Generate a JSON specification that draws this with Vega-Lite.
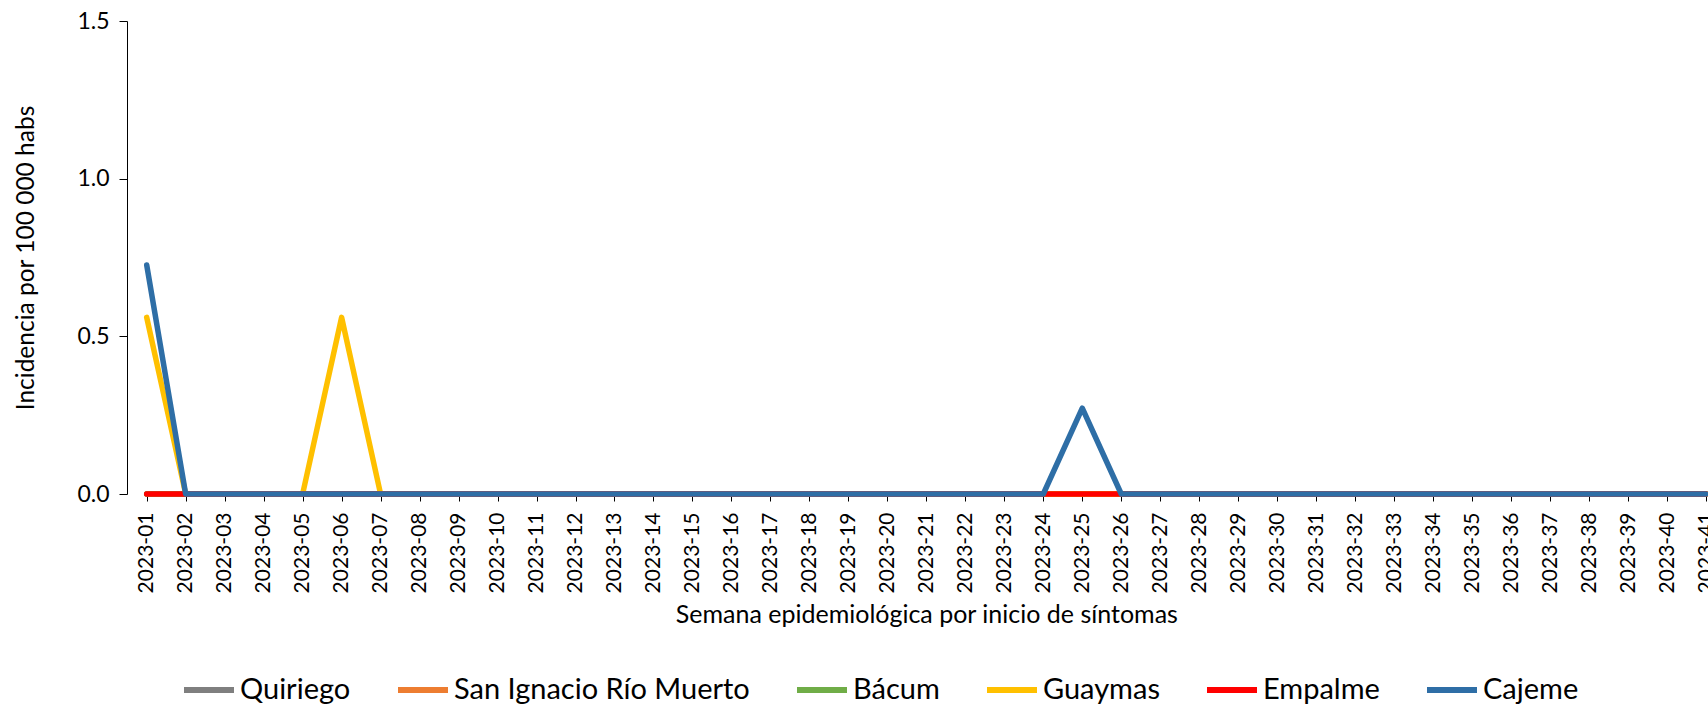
{
  "$schema": "https://vega.github.io/schema/vega-lite/v6.json",
  "width": 1581,
  "height": 473,
  "autosize": {"type": "none"},
  "padding": {"left": 127, "top": 21, "right": 0, "bottom": 212},
  "background": "white",
  "config": {
    "font": "Lato",
    "view": {"stroke": null},
    "axis": {"grid": false, "domainColor": "#000", "tickColor": "#000", "labelColor": "#000", "titleColor": "#000", "labelFont": "Lato", "titleFont": "Lato", "titleFontWeight": "normal"}
  },
  "data": {"values": [
    {"Municipio":"Quiriego","Semana":"2023-01","Incidencia":0},{"Municipio":"Quiriego","Semana":"2023-02","Incidencia":0},{"Municipio":"Quiriego","Semana":"2023-03","Incidencia":0},{"Municipio":"Quiriego","Semana":"2023-04","Incidencia":0},{"Municipio":"Quiriego","Semana":"2023-05","Incidencia":0},{"Municipio":"Quiriego","Semana":"2023-06","Incidencia":0},{"Municipio":"Quiriego","Semana":"2023-07","Incidencia":0},{"Municipio":"Quiriego","Semana":"2023-08","Incidencia":0},{"Municipio":"Quiriego","Semana":"2023-09","Incidencia":0},{"Municipio":"Quiriego","Semana":"2023-10","Incidencia":0},{"Municipio":"Quiriego","Semana":"2023-11","Incidencia":0},{"Municipio":"Quiriego","Semana":"2023-12","Incidencia":0},{"Municipio":"Quiriego","Semana":"2023-13","Incidencia":0},{"Municipio":"Quiriego","Semana":"2023-14","Incidencia":0},{"Municipio":"Quiriego","Semana":"2023-15","Incidencia":0},{"Municipio":"Quiriego","Semana":"2023-16","Incidencia":0},{"Municipio":"Quiriego","Semana":"2023-17","Incidencia":0},{"Municipio":"Quiriego","Semana":"2023-18","Incidencia":0},{"Municipio":"Quiriego","Semana":"2023-19","Incidencia":0},{"Municipio":"Quiriego","Semana":"2023-20","Incidencia":0},{"Municipio":"Quiriego","Semana":"2023-21","Incidencia":0},{"Municipio":"Quiriego","Semana":"2023-22","Incidencia":0},{"Municipio":"Quiriego","Semana":"2023-23","Incidencia":0},{"Municipio":"Quiriego","Semana":"2023-24","Incidencia":0},{"Municipio":"Quiriego","Semana":"2023-25","Incidencia":0},{"Municipio":"Quiriego","Semana":"2023-26","Incidencia":0},{"Municipio":"Quiriego","Semana":"2023-27","Incidencia":0},{"Municipio":"Quiriego","Semana":"2023-28","Incidencia":0},{"Municipio":"Quiriego","Semana":"2023-29","Incidencia":0},{"Municipio":"Quiriego","Semana":"2023-30","Incidencia":0},{"Municipio":"Quiriego","Semana":"2023-31","Incidencia":0},{"Municipio":"Quiriego","Semana":"2023-32","Incidencia":0},{"Municipio":"Quiriego","Semana":"2023-33","Incidencia":0},{"Municipio":"Quiriego","Semana":"2023-34","Incidencia":0},{"Municipio":"Quiriego","Semana":"2023-35","Incidencia":0},{"Municipio":"Quiriego","Semana":"2023-36","Incidencia":0},{"Municipio":"Quiriego","Semana":"2023-37","Incidencia":0},{"Municipio":"Quiriego","Semana":"2023-38","Incidencia":0},{"Municipio":"Quiriego","Semana":"2023-39","Incidencia":0},{"Municipio":"Quiriego","Semana":"2023-40","Incidencia":0},{"Municipio":"Quiriego","Semana":"2023-41","Incidencia":0},
    {"Municipio":"San Ignacio Río Muerto","Semana":"2023-01","Incidencia":0},{"Municipio":"San Ignacio Río Muerto","Semana":"2023-02","Incidencia":0},{"Municipio":"San Ignacio Río Muerto","Semana":"2023-03","Incidencia":0},{"Municipio":"San Ignacio Río Muerto","Semana":"2023-04","Incidencia":0},{"Municipio":"San Ignacio Río Muerto","Semana":"2023-05","Incidencia":0},{"Municipio":"San Ignacio Río Muerto","Semana":"2023-06","Incidencia":0},{"Municipio":"San Ignacio Río Muerto","Semana":"2023-07","Incidencia":0},{"Municipio":"San Ignacio Río Muerto","Semana":"2023-08","Incidencia":0},{"Municipio":"San Ignacio Río Muerto","Semana":"2023-09","Incidencia":0},{"Municipio":"San Ignacio Río Muerto","Semana":"2023-10","Incidencia":0},{"Municipio":"San Ignacio Río Muerto","Semana":"2023-11","Incidencia":0},{"Municipio":"San Ignacio Río Muerto","Semana":"2023-12","Incidencia":0},{"Municipio":"San Ignacio Río Muerto","Semana":"2023-13","Incidencia":0},{"Municipio":"San Ignacio Río Muerto","Semana":"2023-14","Incidencia":0},{"Municipio":"San Ignacio Río Muerto","Semana":"2023-15","Incidencia":0},{"Municipio":"San Ignacio Río Muerto","Semana":"2023-16","Incidencia":0},{"Municipio":"San Ignacio Río Muerto","Semana":"2023-17","Incidencia":0},{"Municipio":"San Ignacio Río Muerto","Semana":"2023-18","Incidencia":0},{"Municipio":"San Ignacio Río Muerto","Semana":"2023-19","Incidencia":0},{"Municipio":"San Ignacio Río Muerto","Semana":"2023-20","Incidencia":0},{"Municipio":"San Ignacio Río Muerto","Semana":"2023-21","Incidencia":0},{"Municipio":"San Ignacio Río Muerto","Semana":"2023-22","Incidencia":0},{"Municipio":"San Ignacio Río Muerto","Semana":"2023-23","Incidencia":0},{"Municipio":"San Ignacio Río Muerto","Semana":"2023-24","Incidencia":0},{"Municipio":"San Ignacio Río Muerto","Semana":"2023-25","Incidencia":0},{"Municipio":"San Ignacio Río Muerto","Semana":"2023-26","Incidencia":0},{"Municipio":"San Ignacio Río Muerto","Semana":"2023-27","Incidencia":0},{"Municipio":"San Ignacio Río Muerto","Semana":"2023-28","Incidencia":0},{"Municipio":"San Ignacio Río Muerto","Semana":"2023-29","Incidencia":0},{"Municipio":"San Ignacio Río Muerto","Semana":"2023-30","Incidencia":0},{"Municipio":"San Ignacio Río Muerto","Semana":"2023-31","Incidencia":0},{"Municipio":"San Ignacio Río Muerto","Semana":"2023-32","Incidencia":0},{"Municipio":"San Ignacio Río Muerto","Semana":"2023-33","Incidencia":0},{"Municipio":"San Ignacio Río Muerto","Semana":"2023-34","Incidencia":0},{"Municipio":"San Ignacio Río Muerto","Semana":"2023-35","Incidencia":0},{"Municipio":"San Ignacio Río Muerto","Semana":"2023-36","Incidencia":0},{"Municipio":"San Ignacio Río Muerto","Semana":"2023-37","Incidencia":0},{"Municipio":"San Ignacio Río Muerto","Semana":"2023-38","Incidencia":0},{"Municipio":"San Ignacio Río Muerto","Semana":"2023-39","Incidencia":0},{"Municipio":"San Ignacio Río Muerto","Semana":"2023-40","Incidencia":0},{"Municipio":"San Ignacio Río Muerto","Semana":"2023-41","Incidencia":0},
    {"Municipio":"Bácum","Semana":"2023-01","Incidencia":0},{"Municipio":"Bácum","Semana":"2023-02","Incidencia":0},{"Municipio":"Bácum","Semana":"2023-03","Incidencia":0},{"Municipio":"Bácum","Semana":"2023-04","Incidencia":0},{"Municipio":"Bácum","Semana":"2023-05","Incidencia":0},{"Municipio":"Bácum","Semana":"2023-06","Incidencia":0},{"Municipio":"Bácum","Semana":"2023-07","Incidencia":0},{"Municipio":"Bácum","Semana":"2023-08","Incidencia":0},{"Municipio":"Bácum","Semana":"2023-09","Incidencia":0},{"Municipio":"Bácum","Semana":"2023-10","Incidencia":0},{"Municipio":"Bácum","Semana":"2023-11","Incidencia":0},{"Municipio":"Bácum","Semana":"2023-12","Incidencia":0},{"Municipio":"Bácum","Semana":"2023-13","Incidencia":0},{"Municipio":"Bácum","Semana":"2023-14","Incidencia":0},{"Municipio":"Bácum","Semana":"2023-15","Incidencia":0},{"Municipio":"Bácum","Semana":"2023-16","Incidencia":0},{"Municipio":"Bácum","Semana":"2023-17","Incidencia":0},{"Municipio":"Bácum","Semana":"2023-18","Incidencia":0},{"Municipio":"Bácum","Semana":"2023-19","Incidencia":0},{"Municipio":"Bácum","Semana":"2023-20","Incidencia":0},{"Municipio":"Bácum","Semana":"2023-21","Incidencia":0},{"Municipio":"Bácum","Semana":"2023-22","Incidencia":0},{"Municipio":"Bácum","Semana":"2023-23","Incidencia":0},{"Municipio":"Bácum","Semana":"2023-24","Incidencia":0},{"Municipio":"Bácum","Semana":"2023-25","Incidencia":0},{"Municipio":"Bácum","Semana":"2023-26","Incidencia":0},{"Municipio":"Bácum","Semana":"2023-27","Incidencia":0},{"Municipio":"Bácum","Semana":"2023-28","Incidencia":0},{"Municipio":"Bácum","Semana":"2023-29","Incidencia":0},{"Municipio":"Bácum","Semana":"2023-30","Incidencia":0},{"Municipio":"Bácum","Semana":"2023-31","Incidencia":0},{"Municipio":"Bácum","Semana":"2023-32","Incidencia":0},{"Municipio":"Bácum","Semana":"2023-33","Incidencia":0},{"Municipio":"Bácum","Semana":"2023-34","Incidencia":0},{"Municipio":"Bácum","Semana":"2023-35","Incidencia":0},{"Municipio":"Bácum","Semana":"2023-36","Incidencia":0},{"Municipio":"Bácum","Semana":"2023-37","Incidencia":0},{"Municipio":"Bácum","Semana":"2023-38","Incidencia":0},{"Municipio":"Bácum","Semana":"2023-39","Incidencia":0},{"Municipio":"Bácum","Semana":"2023-40","Incidencia":0},{"Municipio":"Bácum","Semana":"2023-41","Incidencia":0},
    {"Municipio":"Guaymas","Semana":"2023-01","Incidencia":0.56},{"Municipio":"Guaymas","Semana":"2023-02","Incidencia":0},{"Municipio":"Guaymas","Semana":"2023-03","Incidencia":0},{"Municipio":"Guaymas","Semana":"2023-04","Incidencia":0},{"Municipio":"Guaymas","Semana":"2023-05","Incidencia":0},{"Municipio":"Guaymas","Semana":"2023-06","Incidencia":0.56},{"Municipio":"Guaymas","Semana":"2023-07","Incidencia":0},{"Municipio":"Guaymas","Semana":"2023-08","Incidencia":0},{"Municipio":"Guaymas","Semana":"2023-09","Incidencia":0},{"Municipio":"Guaymas","Semana":"2023-10","Incidencia":0},{"Municipio":"Guaymas","Semana":"2023-11","Incidencia":0},{"Municipio":"Guaymas","Semana":"2023-12","Incidencia":0},{"Municipio":"Guaymas","Semana":"2023-13","Incidencia":0},{"Municipio":"Guaymas","Semana":"2023-14","Incidencia":0},{"Municipio":"Guaymas","Semana":"2023-15","Incidencia":0},{"Municipio":"Guaymas","Semana":"2023-16","Incidencia":0},{"Municipio":"Guaymas","Semana":"2023-17","Incidencia":0},{"Municipio":"Guaymas","Semana":"2023-18","Incidencia":0},{"Municipio":"Guaymas","Semana":"2023-19","Incidencia":0},{"Municipio":"Guaymas","Semana":"2023-20","Incidencia":0},{"Municipio":"Guaymas","Semana":"2023-21","Incidencia":0},{"Municipio":"Guaymas","Semana":"2023-22","Incidencia":0},{"Municipio":"Guaymas","Semana":"2023-23","Incidencia":0},{"Municipio":"Guaymas","Semana":"2023-24","Incidencia":0},{"Municipio":"Guaymas","Semana":"2023-25","Incidencia":0},{"Municipio":"Guaymas","Semana":"2023-26","Incidencia":0},{"Municipio":"Guaymas","Semana":"2023-27","Incidencia":0},{"Municipio":"Guaymas","Semana":"2023-28","Incidencia":0},{"Municipio":"Guaymas","Semana":"2023-29","Incidencia":0},{"Municipio":"Guaymas","Semana":"2023-30","Incidencia":0},{"Municipio":"Guaymas","Semana":"2023-31","Incidencia":0},{"Municipio":"Guaymas","Semana":"2023-32","Incidencia":0},{"Municipio":"Guaymas","Semana":"2023-33","Incidencia":0},{"Municipio":"Guaymas","Semana":"2023-34","Incidencia":0},{"Municipio":"Guaymas","Semana":"2023-35","Incidencia":0},{"Municipio":"Guaymas","Semana":"2023-36","Incidencia":0},{"Municipio":"Guaymas","Semana":"2023-37","Incidencia":0},{"Municipio":"Guaymas","Semana":"2023-38","Incidencia":0},{"Municipio":"Guaymas","Semana":"2023-39","Incidencia":0},{"Municipio":"Guaymas","Semana":"2023-40","Incidencia":0},{"Municipio":"Guaymas","Semana":"2023-41","Incidencia":0},
    {"Municipio":"Empalme","Semana":"2023-01","Incidencia":0},{"Municipio":"Empalme","Semana":"2023-02","Incidencia":0},{"Municipio":"Empalme","Semana":"2023-03","Incidencia":0},{"Municipio":"Empalme","Semana":"2023-04","Incidencia":0},{"Municipio":"Empalme","Semana":"2023-05","Incidencia":0},{"Municipio":"Empalme","Semana":"2023-06","Incidencia":0},{"Municipio":"Empalme","Semana":"2023-07","Incidencia":0},{"Municipio":"Empalme","Semana":"2023-08","Incidencia":0},{"Municipio":"Empalme","Semana":"2023-09","Incidencia":0},{"Municipio":"Empalme","Semana":"2023-10","Incidencia":0},{"Municipio":"Empalme","Semana":"2023-11","Incidencia":0},{"Municipio":"Empalme","Semana":"2023-12","Incidencia":0},{"Municipio":"Empalme","Semana":"2023-13","Incidencia":0},{"Municipio":"Empalme","Semana":"2023-14","Incidencia":0},{"Municipio":"Empalme","Semana":"2023-15","Incidencia":0},{"Municipio":"Empalme","Semana":"2023-16","Incidencia":0},{"Municipio":"Empalme","Semana":"2023-17","Incidencia":0},{"Municipio":"Empalme","Semana":"2023-18","Incidencia":0},{"Municipio":"Empalme","Semana":"2023-19","Incidencia":0},{"Municipio":"Empalme","Semana":"2023-20","Incidencia":0},{"Municipio":"Empalme","Semana":"2023-21","Incidencia":0},{"Municipio":"Empalme","Semana":"2023-22","Incidencia":0},{"Municipio":"Empalme","Semana":"2023-23","Incidencia":0},{"Municipio":"Empalme","Semana":"2023-24","Incidencia":0},{"Municipio":"Empalme","Semana":"2023-25","Incidencia":0},{"Municipio":"Empalme","Semana":"2023-26","Incidencia":0},{"Municipio":"Empalme","Semana":"2023-27","Incidencia":0},{"Municipio":"Empalme","Semana":"2023-28","Incidencia":0},{"Municipio":"Empalme","Semana":"2023-29","Incidencia":0},{"Municipio":"Empalme","Semana":"2023-30","Incidencia":0},{"Municipio":"Empalme","Semana":"2023-31","Incidencia":0},{"Municipio":"Empalme","Semana":"2023-32","Incidencia":0},{"Municipio":"Empalme","Semana":"2023-33","Incidencia":0},{"Municipio":"Empalme","Semana":"2023-34","Incidencia":0},{"Municipio":"Empalme","Semana":"2023-35","Incidencia":0},{"Municipio":"Empalme","Semana":"2023-36","Incidencia":0},{"Municipio":"Empalme","Semana":"2023-37","Incidencia":0},{"Municipio":"Empalme","Semana":"2023-38","Incidencia":0},{"Municipio":"Empalme","Semana":"2023-39","Incidencia":0},{"Municipio":"Empalme","Semana":"2023-40","Incidencia":0},{"Municipio":"Empalme","Semana":"2023-41","Incidencia":0},
    {"Municipio":"Cajeme","Semana":"2023-01","Incidencia":0.726},{"Municipio":"Cajeme","Semana":"2023-02","Incidencia":0},{"Municipio":"Cajeme","Semana":"2023-03","Incidencia":0},{"Municipio":"Cajeme","Semana":"2023-04","Incidencia":0},{"Municipio":"Cajeme","Semana":"2023-05","Incidencia":0},{"Municipio":"Cajeme","Semana":"2023-06","Incidencia":0},{"Municipio":"Cajeme","Semana":"2023-07","Incidencia":0},{"Municipio":"Cajeme","Semana":"2023-08","Incidencia":0},{"Municipio":"Cajeme","Semana":"2023-09","Incidencia":0},{"Municipio":"Cajeme","Semana":"2023-10","Incidencia":0},{"Municipio":"Cajeme","Semana":"2023-11","Incidencia":0},{"Municipio":"Cajeme","Semana":"2023-12","Incidencia":0},{"Municipio":"Cajeme","Semana":"2023-13","Incidencia":0},{"Municipio":"Cajeme","Semana":"2023-14","Incidencia":0},{"Municipio":"Cajeme","Semana":"2023-15","Incidencia":0},{"Municipio":"Cajeme","Semana":"2023-16","Incidencia":0},{"Municipio":"Cajeme","Semana":"2023-17","Incidencia":0},{"Municipio":"Cajeme","Semana":"2023-18","Incidencia":0},{"Municipio":"Cajeme","Semana":"2023-19","Incidencia":0},{"Municipio":"Cajeme","Semana":"2023-20","Incidencia":0},{"Municipio":"Cajeme","Semana":"2023-21","Incidencia":0},{"Municipio":"Cajeme","Semana":"2023-22","Incidencia":0},{"Municipio":"Cajeme","Semana":"2023-23","Incidencia":0},{"Municipio":"Cajeme","Semana":"2023-24","Incidencia":0},{"Municipio":"Cajeme","Semana":"2023-25","Incidencia":0.272},{"Municipio":"Cajeme","Semana":"2023-26","Incidencia":0},{"Municipio":"Cajeme","Semana":"2023-27","Incidencia":0},{"Municipio":"Cajeme","Semana":"2023-28","Incidencia":0},{"Municipio":"Cajeme","Semana":"2023-29","Incidencia":0},{"Municipio":"Cajeme","Semana":"2023-30","Incidencia":0},{"Municipio":"Cajeme","Semana":"2023-31","Incidencia":0},{"Municipio":"Cajeme","Semana":"2023-32","Incidencia":0},{"Municipio":"Cajeme","Semana":"2023-33","Incidencia":0},{"Municipio":"Cajeme","Semana":"2023-34","Incidencia":0},{"Municipio":"Cajeme","Semana":"2023-35","Incidencia":0},{"Municipio":"Cajeme","Semana":"2023-36","Incidencia":0},{"Municipio":"Cajeme","Semana":"2023-37","Incidencia":0},{"Municipio":"Cajeme","Semana":"2023-38","Incidencia":0},{"Municipio":"Cajeme","Semana":"2023-39","Incidencia":0},{"Municipio":"Cajeme","Semana":"2023-40","Incidencia":0},{"Municipio":"Cajeme","Semana":"2023-41","Incidencia":0}
  ]},
  "mark": {"type": "line", "strokeWidth": 5.5, "strokeCap": "round", "strokeJoin": "round"},
  "encoding": {
    "x": {
      "field": "Semana", "type": "ordinal",
      "scale": {"type": "point", "range": [19.7, 1579], "padding": 0},
      "axis": {"title": "Semana epidemiológica por inicio de síntomas", "labelAngle": 270, "labelFontSize": 21, "tickSize": 7, "labelPadding": 11, "titleFontSize": 25, "titlePadding": 10}
    },
    "y": {
      "field": "Incidencia", "type": "quantitative",
      "scale": {"domain": [0, 1.5], "nice": false},
      "axis": {"values": [0, 0.5, 1, 1.5], "format": ".1f", "title": "Incidencia por 100 000 habs", "labelFontSize": 23, "titleFontSize": 24.5, "tickSize": 8, "labelPadding": 10, "titlePadding": 38}
    },
    "color": {
      "field": "Municipio", "type": "nominal",
      "scale": {
        "domain": ["Quiriego", "San Ignacio Río Muerto", "Bácum", "Guaymas", "Empalme", "Cajeme"],
        "range": ["#7F7F7F", "#ED7D31", "#70AD47", "#FFC000", "#FF0000", "#2E6EA6"]
      },
      "legend": {"title": null, "orient": "none", "direction": "horizontal", "columns": 6, "legendX": 54, "legendY": 641, "symbolType": "stroke", "symbolSize": 2500, "symbolStrokeWidth": 6, "labelFontSize": 29, "labelFont": "Lato", "labelColor": "#000", "labelOffset": 3, "labelLimit": 0, "columnPadding": 35, "padding": 0}
    }
  }
}
